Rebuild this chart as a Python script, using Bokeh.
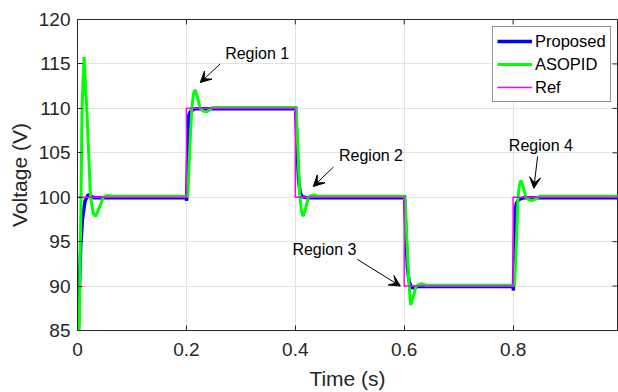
from bokeh.plotting import figure
from bokeh.models import (Range1d, FixedTicker, Legend, LegendItem,
                          Label, Arrow, VeeHead)
from bokeh.embed import file_html
from bokeh.resources import INLINE

# ---------------- data ----------------
ref_t = [0, 0.2, 0.2, 0.4, 0.4, 0.6, 0.6, 0.8, 0.8, 1.0]
ref_v = [100, 100, 110, 110, 100, 100, 90, 90, 100, 100]

proposed_t = [0, 0.0015, 0.004, 0.006, 0.009, 0.014, 0.02, 0.03, 0.2, 0.2005,
              0.202, 0.204, 0.207, 0.211, 0.216, 0.225, 0.4, 0.4005, 0.403,
              0.406, 0.409, 0.4125, 0.42, 0.6, 0.6005, 0.603, 0.606, 0.609,
              0.612, 0.615, 0.625, 0.8, 0.8005, 0.802, 0.804, 0.806, 0.81,
              0.815, 0.82, 1.0]
proposed_v = [0, 85, 91, 94.6, 97.5, 99.6, 100.3, 99.95, 99.95, 99.6,
              104, 109.1, 109.6, 109.8, 109.95, 109.95, 109.95, 110.2, 106,
              102, 100.5, 100.05, 99.95, 99.95, 100.2, 96, 92, 90.5,
              90.05, 89.8, 89.95, 89.95, 89.5, 94, 98.6, 99.3, 99.7,
              99.85, 99.95, 99.95]

asopid_t = [0, 0.003, 0.0065, 0.0083, 0.012, 0.017, 0.024, 0.029, 0.0335,
            0.038, 0.0475, 0.0555, 0.063, 0.2, 0.2027, 0.2057, 0.21, 0.213,
            0.216, 0.219, 0.2254, 0.231, 0.2365, 0.242, 0.248, 0.4, 0.402,
            0.405, 0.408, 0.411, 0.4143, 0.418, 0.424, 0.43, 0.4357, 0.442,
            0.6, 0.602, 0.605, 0.608, 0.6118, 0.616, 0.622, 0.628, 0.633,
            0.64, 0.8, 0.8025, 0.805, 0.809, 0.8115, 0.814, 0.817, 0.8234,
            0.829, 0.8357, 0.842, 0.848, 1.0]
asopid_v = [0, 85, 100, 110, 115.8, 110, 100, 98.2, 97.85,
            98.5, 100, 100.2, 100.1, 100.1, 100.1, 105, 110, 111.6,
            112.1, 111.5, 110, 109.7, 109.6, 109.8, 110.1, 110.1, 109.5,
            105, 100.5, 98.5, 97.85, 98.5, 100, 100.2, 100.25, 100.1,
            100.1, 99.5, 95, 91, 87.85, 88.7, 90, 90.2, 90.25,
            90.1, 90.1, 90.1, 93, 100, 101.3, 101.9, 101.5, 100,
            99.7, 99.63, 99.8, 100.1, 100.1]

x_ticks = [0, 0.2, 0.4, 0.6, 0.8]
y_ticks = [85, 90, 95, 100, 105, 110, 115, 120]

region_labels = ["Region 1", "Region 2", "Region 3", "Region 4"]
region_text_xy = [(0.330, 116.2), (0.539, 104.67), (0.4535, 94.1), (0.851, 105.8)]
region_arrow_from = [(0.262, 115.0), (0.470, 103.4), (0.514, 93.0), (0.845, 104.6)]
region_arrow_to = [(0.2254, 112.9), (0.433, 101.2), (0.593, 90.0), (0.838, 101.0)]

# ---------------- figure ----------------
FONT = "Liberation Sans"
TXT = "#262626"
X0, X1, Y0, Y1 = 0, 0.9917, 85, 120

p = figure(width=618, height=392, output_backend="svg", toolbar_location=None,
           x_range=Range1d(X0, X1), y_range=Range1d(Y0, Y1),
           min_border_left=77, min_border_right=1, min_border_top=19,
           min_border_bottom=58)
p.outline_line_color = TXT
p.outline_line_width = 1
p.background_fill_color = "white"
p.border_fill_color = "white"

for ax in p.xaxis + p.yaxis:
    ax.major_label_text_font = FONT
    ax.major_label_text_font_size = "19px"
    ax.major_label_text_color = TXT
    ax.axis_label_text_font = FONT
    ax.axis_label_text_font_size = "21px"
    ax.axis_label_text_font_style = "normal"
    ax.axis_label_text_color = TXT
    ax.axis_line_color = TXT
    ax.major_tick_line_color = TXT
    ax.major_tick_in = 5
    ax.major_tick_out = 0
    ax.minor_tick_line_color = None

p.xaxis.ticker = FixedTicker(ticks=x_ticks)
p.yaxis.ticker = FixedTicker(ticks=y_ticks)
p.xaxis.axis_label = "Time (s)"
p.yaxis.axis_label = "Voltage (V)"
p.xaxis.major_label_standoff = 12
p.xaxis.axis_label_standoff = 8
p.yaxis.major_label_standoff = 7
p.yaxis.axis_label_standoff = 5

p.xgrid.ticker = FixedTicker(ticks=x_ticks)
p.ygrid.ticker = FixedTicker(ticks=y_ticks)
p.grid.grid_line_color = "#e3e3e3"
p.grid.grid_line_width = 1

# box tick marks on the top and right edges (inward, ~5 px)
tick_dy = 5 / 9.0          # 9 px per volt
tick_dx = 5 / 544.5        # ~544.5 px per second
p.segment(x0=x_ticks, y0=[Y1] * len(x_ticks), x1=x_ticks,
          y1=[Y1 - tick_dy] * len(x_ticks), line_color=TXT, line_width=1)
p.segment(x0=[X1] * len(y_ticks), y0=y_ticks, x1=[X1 - tick_dx] * len(y_ticks),
          y1=y_ticks, line_color=TXT, line_width=1)

# ---------------- lines ----------------
r_prop = p.line(proposed_t, proposed_v, line_color="#0000ff", line_width=3.5)
r_aso = p.line(asopid_t, asopid_v, line_color="#00ff00", line_width=3)
r_ref = p.line(ref_t, ref_v, line_color="#ff00ff", line_width=1.5)

legend = Legend(items=[LegendItem(label="Proposed", renderers=[r_prop]),
                       LegendItem(label="ASOPID", renderers=[r_aso]),
                       LegendItem(label="Ref", renderers=[r_ref])],
                location=(415, 228))
legend.label_text_font = FONT
legend.label_text_font_size = "16.5px"
legend.label_text_color = "black"
legend.glyph_width = 35
legend.glyph_height = 20
legend.label_height = 20
legend.label_standoff = 3
legend.spacing = 3
legend.padding = 4
legend.border_line_color = TXT
legend.border_line_width = 1
legend.background_fill_color = "white"
legend.background_fill_alpha = 1
p.add_layout(legend, "center")

# ---------------- annotations ----------------
for lbl, (tx, ty), (fx, fy), (hx, hy) in zip(region_labels, region_text_xy,
                                             region_arrow_from, region_arrow_to):
    p.add_layout(Label(x=tx, y=ty, text=lbl, text_font=FONT, text_font_size="16px",
                       text_color="black", text_align="center",
                       text_baseline="middle"))
    p.add_layout(Arrow(x_start=fx, y_start=fy, x_end=hx, y_end=hy,
                       line_color="black", line_width=1,
                       end=VeeHead(size=11, fill_color="black", line_color="black",
                                   line_width=1)))

open("out.html", "w").write(file_html(p, INLINE))
